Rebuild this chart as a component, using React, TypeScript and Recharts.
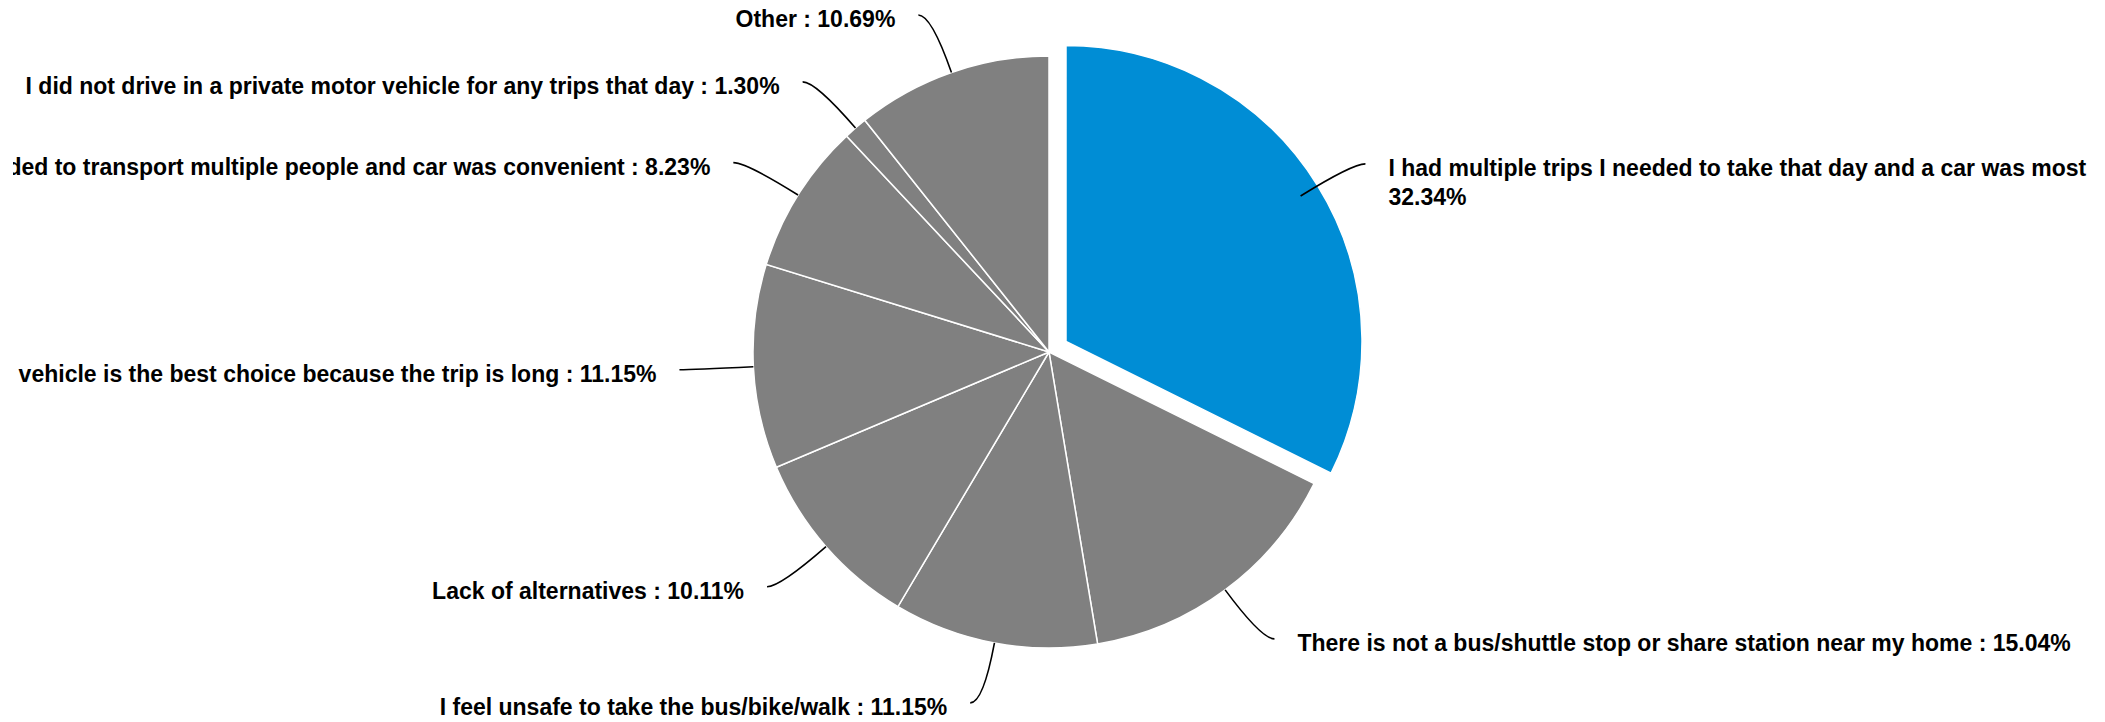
import React from 'react'
import { PieChart, Pie, Cell } from 'recharts'

const categories = [
  'I had multiple trips I needed to take that day and a car was most convenient',
  'There is not a bus/shuttle stop or share station near my home',
  'I feel unsafe to take the bus/bike/walk',
  'Lack of alternatives',
  'A private motor vehicle is the best choice because the trip is long',
  'I needed to transport multiple people and car was convenient',
  'I did not drive in a private motor vehicle for any trips that day',
  'Other',
]
const shares = [32.34, 15.04, 11.15, 10.11, 11.15, 8.23, 1.3, 10.69]

const data = categories.map((name, i) => ({ name, value: shares[i] }))

const W = 2105
const H = 722
const CX = 1049
const CY = 352
const R = 296
const LABEL_R = 357
const SLICE_OFFSET = 20
const HIGHLIGHT = 0
const BLUE = '#008dd5'
const GREY = '#808080'
const FONT = '"Liberation Sans", Arial, sans-serif'
const RAD = Math.PI / 180

// highlighted slice is pulled out along its mid angle
const total = shares.reduce((a, b) => a + b, 0)
const hlMid = 90 - (360 * (shares.slice(0, HIGHLIGHT).reduce((a, b) => a + b, 0) + shares[HIGHLIGHT] / 2)) / total
const offX = Math.cos(hlMid * RAD) * SLICE_OFFSET
const offY = -Math.sin(hlMid * RAD) * SLICE_OFFSET

function renderLabel(props: any) {
  const { cx, cy, midAngle, outerRadius, value } = props
  const name = props.payload?.name ?? props.name
  const cos = Math.cos(-midAngle * RAD)
  const sin = Math.sin(-midAngle * RAD)
  const side = cos >= 0 ? 1 : -1
  const ex = cx + cos * outerRadius
  const ey = cy + sin * outerRadius
  const dy = sin * LABEL_R
  const lx = cx + side * (Math.sqrt(Math.max(LABEL_R * LABEL_R - dy * dy, 0)) + 13)
  const ly = cy + dy
  // bend point: where the radial line meets the label row
  let px = (lx + ex) / 2
  if (Math.abs(sin) > 0.02) {
    const t = Math.max(0, (ly - ey) / sin)
    px = ex + cos * t
    if ((px - lx) * side > 0) px = lx
  }
  const tx = lx + side * 23
  const text = `${name} : ${value.toFixed(2)}%`
  const wrap = side > 0 && tx + text.length * 11 > W
  return (
    <g>
      <path
        d={`M${lx},${ly} Q${px},${ly} ${ex},${ey}`}
        fill="none"
        stroke="#000"
        strokeWidth={1.6}
      />
      <text
        x={tx}
        y={ly + 12}
        textAnchor={side > 0 ? 'start' : 'end'}
        fontFamily={FONT}
        fontWeight={700}
        fontSize={23}
        fill="#000"
      >
        {wrap ? (
          <>
            <tspan x={tx}>{`${name} :`}</tspan>
            <tspan x={tx} dy={29}>{`${value.toFixed(2)}%`}</tspan>
          </>
        ) : (
          text
        )}
      </text>
    </g>
  )
}

export default function App() {
  return (
    <div
      style={{
        position: 'absolute',
        left: 0,
        top: 0,
        width: W,
        height: H,
        overflow: 'hidden',
        background: '#fff',
      }}
    >
      <div style={{ width: W, height: H, clipPath: 'inset(0px 12px 0px 13px)' }}>
        <PieChart width={W} height={H} margin={{ top: 0, right: 0, bottom: 0, left: 0 }}>
          <Pie
            data={data}
            dataKey="value"
            nameKey="name"
            cx={CX + offX}
            cy={CY + offY}
            outerRadius={R}
            startAngle={90}
            endAngle={-270}
            label={false}
            labelLine={false}
            isAnimationActive={false}
          >
            {data.map((d, i) => (
              <Cell
                key={d.name}
                fill={i === HIGHLIGHT ? BLUE : 'transparent'}
                stroke={i === HIGHLIGHT ? '#fff' : 'none'}
                strokeWidth={1.5}
              />
            ))}
          </Pie>
          <Pie
            data={data}
            dataKey="value"
            nameKey="name"
            cx={CX}
            cy={CY}
            outerRadius={R}
            startAngle={90}
            endAngle={-270}
            label={renderLabel}
            labelLine={false}
            isAnimationActive={false}
          >
            {data.map((d, i) => (
              <Cell
                key={d.name}
                fill={i === HIGHLIGHT ? 'transparent' : GREY}
                stroke={i === HIGHLIGHT ? 'none' : '#fff'}
                strokeWidth={1.5}
              />
            ))}
          </Pie>
        </PieChart>
      </div>
    </div>
  )
}
